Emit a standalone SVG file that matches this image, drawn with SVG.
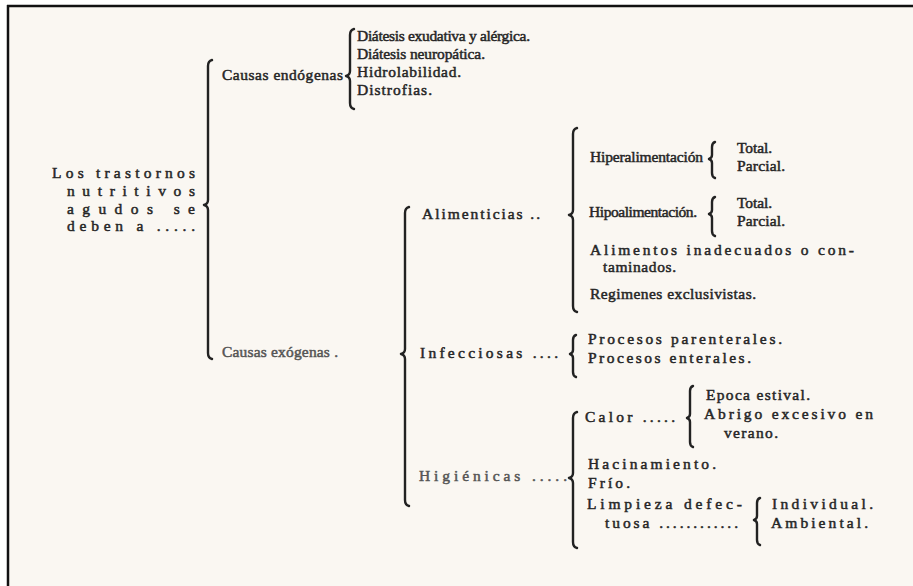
<svg xmlns="http://www.w3.org/2000/svg" width="913" height="586" viewBox="0 0 913 586">
<style>
text{font-family:"Liberation Serif","DejaVu Serif",serif;font-size:15.5px;fill:#262626;stroke:#262626;stroke-width:0.5}
.f{fill:#555;stroke:#555}
.b{fill:none;stroke:#222;stroke-width:2.4;stroke-linecap:round;stroke-linejoin:round}
</style>
<rect x="0" y="0" width="913" height="586" fill="#ffffff"/>
<rect x="8" y="6" width="905" height="580" fill="#faf7f2"/>
<line x1="7" y1="6" x2="913" y2="6" stroke="#111" stroke-width="2.5"/>
<line x1="8" y1="5" x2="8" y2="586" stroke="#111" stroke-width="2.5"/>

<g id="connectors">
<path class="b" d="M212 60 Q208 61 208 66 L208 200 Q208 204 204 205 Q208 206 208 210 L208 353 Q208 358 212 359"/>
<path class="b" d="M354 29 Q350 30 350 35 L350 71 Q350 75 346 76 Q350 77 350 81 L350 103 Q350 108 354 109"/>
<path class="b" d="M409 207 Q405 208 405 213 L405 349 Q405 353 401 354 Q405 355 405 359 L405 500 Q405 505 409 506"/>
<path class="b" d="M577 128 Q573 129 573 134 L573 210 Q573 214 569 215 Q573 216 573 220 L573 306 Q573 311 577 312"/>
<path class="b" d="M715 142 Q712 143 712 147 L712 155 Q712 158 709 159 Q712 160 712 163 L712 173 Q712 177 715 178"/>
<path class="b" d="M715 197 Q712 198 712 202 L712 210 Q712 213 709 214 Q712 215 712 218 L712 231 Q712 235 715 236"/>
<path class="b" d="M576 335 Q573 336 573 340 L573 350 Q573 353 570 354 Q573 355 573 358 L573 372 Q573 376 576 377"/>
<path class="b" d="M693 386 Q690 387 690 391 L690 414 Q690 417 687 418 Q690 419 690 422 L690 442 Q690 446 693 447"/>
<path class="b" d="M577 412 Q573 413 573 418 L573 473 Q573 477 569 478 Q573 479 573 483 L573 542 Q573 547 577 548"/>
<path class="b" d="M760 498 Q757 499 757 503 L757 516 Q757 519 754 520 Q757 521 757 524 L757 540 Q757 544 760 545"/>
</g>

<g id="root">
<text x="52" y="178" textLength="143">Los trastornos</text>
<text x="67" y="196" textLength="128">nutritivos</text>
<text x="67" y="214" textLength="128">agudos  se</text>
<text x="67" y="231" textLength="128">deben a .....</text>
</g>

<g id="endogenas"><text x="222" y="80" textLength="121">Causas endógenas</text></g>
<g id="e1"><text x="357" y="41" textLength="173">Diátesis exudativa y alérgica.</text></g>
<g id="e2"><text x="357" y="59" textLength="128">Diátesis neuropática.</text></g>
<g id="e3"><text x="357" y="77" textLength="104">Hidrolabilidad.</text></g>
<g id="e4"><text x="357" y="95" textLength="75">Distrofias.</text></g>

<g id="exogenas"><text class="f" x="222" y="357" textLength="116">Causas exógenas .</text></g>

<g id="alimenticias"><text x="422" y="219" textLength="118">Alimenticias  ..</text></g>
<g id="hiper"><text x="590" y="162" textLength="113">Hiperalimentación</text></g>
<g id="hiper-t"><text x="737" y="153" textLength="35">Total.</text></g>
<g id="hiper-p"><text x="737" y="171" textLength="48">Parcial.</text></g>
<g id="hipo"><text x="589" y="217" textLength="108">Hipoalimentación.</text></g>
<g id="hipo-t"><text x="737" y="208" textLength="35">Total.</text></g>
<g id="hipo-p"><text x="737" y="226" textLength="48">Parcial.</text></g>
<g id="alimentos">
<text x="590" y="255" textLength="264">Alimentos inadecuados o con-</text>
<text x="603" y="272" textLength="73">taminados.</text>
</g>
<g id="regimenes"><text x="590" y="299" textLength="166">Regimenes exclusivistas.</text></g>

<g id="infecciosas"><text x="420" y="358" textLength="138">Infecciosas  ....</text></g>
<g id="parenterales"><text x="588" y="344" textLength="194">Procesos parenterales.</text></g>
<g id="enterales"><text x="588" y="363" textLength="163">Procesos enterales.</text></g>

<g id="higienicas"><text class="f" x="419" y="481" textLength="148">Higiénicas  .....</text></g>
<g id="calor"><text x="585" y="422" textLength="90">Calor .....</text></g>
<g id="estival"><text x="706" y="400" textLength="104">Epoca  estival.</text></g>
<g id="abrigo">
<text x="704" y="419" textLength="169">Abrigo excesivo en</text>
<text x="724" y="438" textLength="54">verano.</text>
</g>
<g id="hacinamiento"><text x="588" y="469" textLength="128">Hacinamiento.</text></g>
<g id="frio"><text x="588" y="488" textLength="42">Frío.</text></g>
<g id="limpieza">
<text x="587" y="509" textLength="155">Limpieza  defec-</text>
<text x="605" y="528" textLength="133">tuosa ............</text>
</g>
<g id="individual"><text x="772" y="509" textLength="101">Individual.</text></g>
<g id="ambiental"><text x="771" y="528" textLength="97">Ambiental.</text></g>
</svg>
